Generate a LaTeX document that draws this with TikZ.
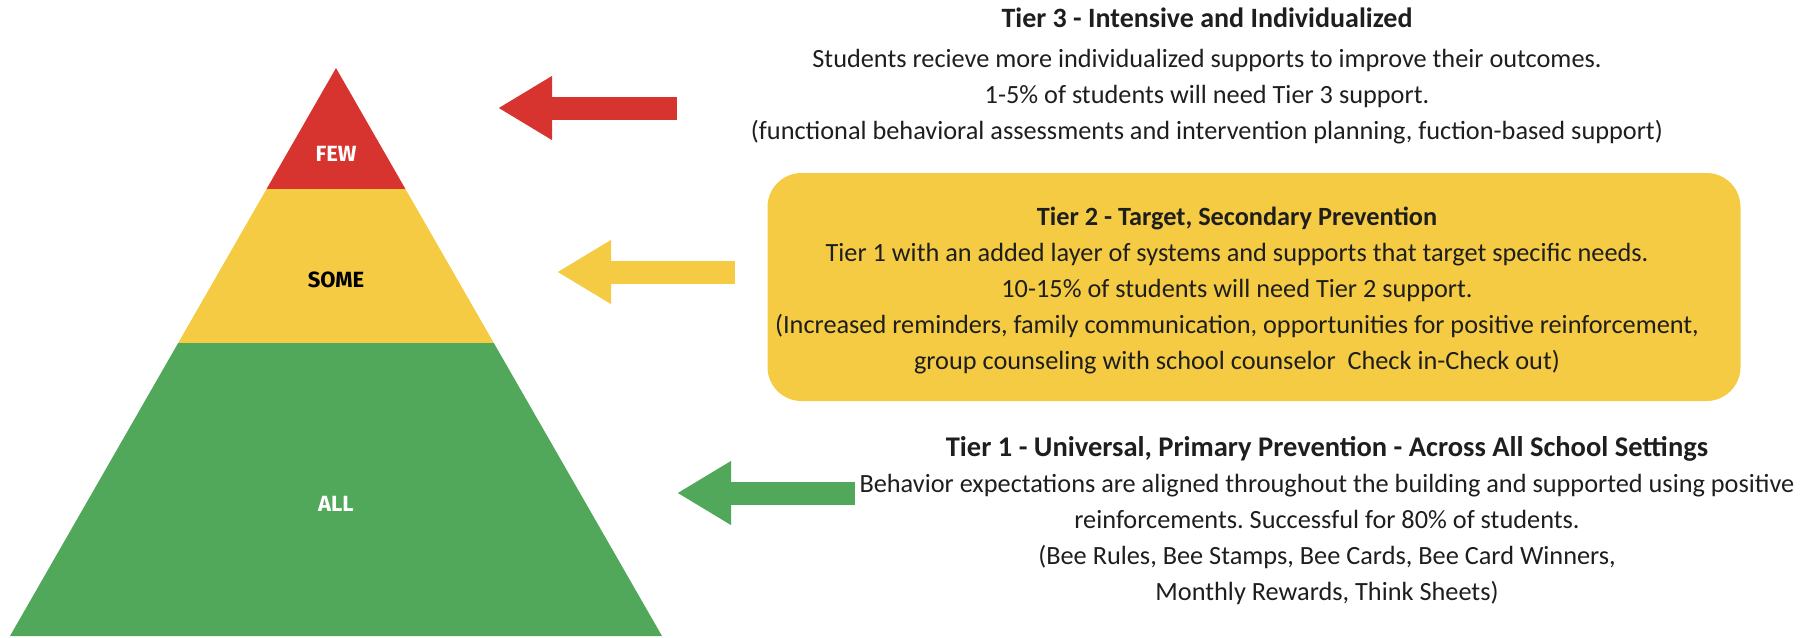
\documentclass[tikz,border=0pt]{standalone}
\usepackage{fontspec}
\setmainfont{Carlito}
\newfontfamily\lblfont{Fira Sans}
\usetikzlibrary{arrows.meta,calc}
\frenchspacing
\definecolor{tierred}{RGB}{216,52,47}
\definecolor{tieryellow}{RGB}{244,203,66}
\definecolor{tiergreen}{RGB}{82,168,90}
\definecolor{txt}{RGB}{30,30,30}
\newcommand{\tiertitle}[2][28]{{\bfseries\fontsize{#1}{36}\selectfont #2}}

\begin{document}
\begin{tikzpicture}[x=1pt,y=-1pt,
  lvl/.style={font=\lblfont\bfseries\fontsize{22}{22}\selectfont,inner sep=0pt},
  desc/.style={align=center,text=txt,font=\fontsize{26.3}{36}\selectfont,inner sep=0pt},
  tierarrow/.style={line width=23pt,-{Triangle[length=54pt,width=60pt]}},
  t2box/.style={fill=tieryellow,rounded corners=34pt,minimum width=973pt,minimum height=228pt,inner sep=0pt}]
  \useasboundingbox (0,0) rectangle (1817,637);
  \coordinate (apex) at (336,68);
  \coordinate (bl) at (10,636);
  \coordinate (br) at (662,636);
  \coordinate (rl) at ($(apex)!0.213!(bl)$);
  \coordinate (rr) at ($(apex)!0.213!(br)$);
  \coordinate (yl) at ($(apex)!0.484!(bl)$);
  \coordinate (yr) at ($(apex)!0.484!(br)$);
  \fill[tiergreen] (yl) -- (yr) -- (br) -- (bl) -- cycle;
  \fill[tieryellow] (rl) -- (rr) -- (yr) -- (yl) -- cycle;
  \fill[tierred] (apex) -- (rr) -- (rl) -- cycle;
  \node[lvl,text=white] (few) at (336,154) {FEW};
  \node[lvl,text=black] (some) at (336,280) {SOME};
  \node[lvl,text=white] (all) at (336,504) {ALL};
  \node[t2box] (t2) at (1254,287) {};
  \node[desc] (t3) at (1207,76) {\tiertitle{Tier 3 - Intensive and Individualized}\\[4pt]
    Students recieve more individualized supports to improve their outcomes.\\
    1-5\% of students will need Tier 3 support.\\
    (functional behavioral assessments and intervention planning, fuction-based support)};
  \node[desc] (t2txt) at (1237,291) {\tiertitle[26.3]{Tier 2 - Target, Secondary Prevention}\\
    Tier 1 with an added layer of systems and supports that target specific needs.\\
    10-15\% of students will need Tier 2 support.\\
    (Increased reminders, family communication, opportunities for positive reinforcement,\\
    group counseling with school counselor~ Check in-Check out)};
  \node[desc] (t1) at (1327,521) {\tiertitle[28.5]{Tier 1 - Universal, Primary Prevention - Across All School Settings}\\
    Behavior expectations are aligned throughout the building and supported using positive\\
    reinforcements. Successful for 80\% of students.\hspace*{40pt}\\
    (Bee Rules, Bee Stamps, Bee Cards, Bee Card Winners,\\
    Monthly Rewards, Think Sheets)};
  \coordinate (a3) at (677,108);
  \coordinate (p3) at (498,108);
  \coordinate (a2) at (735,272);
  \coordinate (p2) at (557,272);
  \coordinate (a1) at (855,493);
  \coordinate (p1) at (677,493);
  \draw[tierarrow,tierred] (a3) -- (p3);
  \draw[tierarrow,tieryellow] (a2) -- (p2);
  \draw[tierarrow,tiergreen] (a1) -- (p1);
\end{tikzpicture}
\end{document}
